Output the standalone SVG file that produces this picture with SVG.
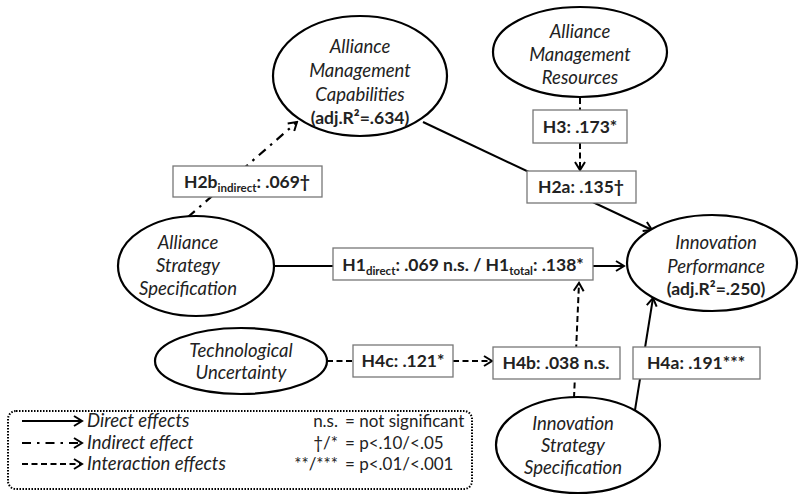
<svg xmlns="http://www.w3.org/2000/svg" width="799" height="495" viewBox="0 0 799 495">
<style>
.el{fill:#fff;stroke:#000;stroke-width:2.2}
.bx{fill:#fff;stroke:#777;stroke-width:1.3}
.it{font-family:Lato,"Open Sans",sans-serif;font-style:italic;font-size:18.5px;fill:#222;text-anchor:middle}
.bd{font-family:Lato,"Open Sans",sans-serif;font-weight:bold;font-size:17.5px;fill:#222;text-anchor:middle}
.lg{font-family:Lato,"Open Sans",sans-serif;font-size:17px;fill:#222}
.li{font-family:Lato,"Open Sans",sans-serif;font-size:18.5px;font-style:italic;fill:#222}
.ln{stroke:#000;stroke-width:2;fill:none}
.dd{stroke:#000;stroke-width:2.2;fill:none;stroke-dasharray:9 6 2.5 6}
.ds{stroke:#000;stroke-width:2;fill:none;stroke-dasharray:6 3.5}
.sub{font-size:11.5px}
</style>
<defs>
<marker id="ah" viewBox="0 0 12 12" refX="10" refY="6" markerWidth="12" markerHeight="12" markerUnits="userSpaceOnUse" orient="auto">
<path d="M2,1 L10,6 L2,11" fill="none" stroke="#000" stroke-width="2"/>
</marker>
</defs>
<g id="connectors">
<line class="ln" x1="423" y1="122" x2="652" y2="230" marker-end="url(#ah)"/>
<line class="dd" x1="188" y1="217" x2="297" y2="122" marker-end="url(#ah)"/>
<line class="ds" x1="580" y1="98" x2="580" y2="110"/>
<line class="ds" x1="580" y1="143" x2="580" y2="170" marker-end="url(#ah)"/>
<line class="ln" x1="274" y1="266" x2="333" y2="266"/>
<line class="ln" x1="593" y1="266" x2="624" y2="266" marker-end="url(#ah)"/>
<line class="ds" x1="574" y1="398" x2="579" y2="283" marker-end="url(#ah)"/>
<line class="ds" x1="327" y1="361" x2="353" y2="361"/>
<line class="ds" x1="453" y1="361" x2="492" y2="361" marker-end="url(#ah)"/>
<line class="ln" x1="635" y1="410" x2="653" y2="298" marker-end="url(#ah)"/>
</g>
<g id="amc">
<ellipse class="el" cx="360" cy="76" rx="87" ry="60"/>
<text class="it" x="360" y="53">Alliance</text>
<text class="it" x="360" y="77">Management</text>
<text class="it" x="360" y="101">Capabilities</text>
<text class="bd" x="360" y="124">(adj.R²=.634)</text>
</g>
<g id="amr">
<ellipse class="el" cx="580" cy="52" rx="87" ry="45"/>
<text class="it" x="580" y="38">Alliance</text>
<text class="it" x="580" y="61">Management</text>
<text class="it" x="580" y="84">Resources</text>
</g>
<g id="h3">
<rect class="bx" x="533" y="110" width="94" height="33"/>
<text class="bd" x="580" y="133">H3: .173*</text>
</g>
<g id="h2a">
<rect class="bx" x="527" y="171" width="109" height="32"/>
<text class="bd" x="581" y="193">H2a: .135†</text>
</g>
<g id="h2b">
<rect class="bx" x="173" y="166" width="149" height="31"/>
<text class="bd" x="247" y="188">H2b<tspan class="sub" dy="4">indirect</tspan><tspan dy="-4">: .069†</tspan></text>
</g>
<g id="ass">
<ellipse class="el" cx="196" cy="266" rx="78" ry="50"/>
<text class="it" x="188" y="249">Alliance</text>
<text class="it" x="188" y="272">Strategy</text>
<text class="it" x="188" y="295">Specification</text>
</g>
<g id="h1">
<rect class="bx" x="333" y="248" width="260" height="32"/>
<text class="bd" x="463" y="271">H1<tspan class="sub" dy="4">direct</tspan><tspan dy="-4">: .069 n.s. / H1</tspan><tspan class="sub" dy="4">total</tspan><tspan dy="-4">: .138*</tspan></text>
</g>
<g id="ip">
<ellipse class="el" cx="712" cy="263" rx="85" ry="48"/>
<text class="it" x="716" y="249">Innovation</text>
<text class="it" x="716" y="273">Performance</text>
<text class="bd" x="716" y="295">(adj.R²=.250)</text>
</g>
<g id="tu">
<ellipse class="el" cx="241" cy="361" rx="86" ry="33"/>
<text class="it" x="241" y="357">Technological</text>
<text class="it" x="241" y="379">Uncertainty</text>
</g>
<g id="h4c">
<rect class="bx" x="353" y="345" width="100" height="32"/>
<text class="bd" x="403" y="367">H4c: .121*</text>
</g>
<g id="h4b">
<rect class="bx" x="493" y="347" width="127" height="32"/>
<text class="bd" x="556" y="369">H4b: .038 n.s.</text>
</g>
<g id="h4a">
<rect class="bx" x="633" y="347" width="127" height="32"/>
<text class="bd" x="696" y="369">H4a: .191***</text>
</g>
<g id="iss">
<ellipse class="el" cx="578" cy="445" rx="82" ry="48"/>
<text class="it" x="573" y="430">Innovation</text>
<text class="it" x="573" y="452">Strategy</text>
<text class="it" x="573" y="474">Specification</text>
</g>
<g id="legend">
<rect x="8" y="411" width="464" height="78" rx="8" fill="none" stroke="#000" stroke-width="2" stroke-dasharray="1.5 1.5"/>
<line class="ln" x1="22" y1="421" x2="82" y2="421" stroke-width="2.4" marker-end="url(#ah)"/>
<line class="dd" x1="22" y1="443" x2="82" y2="443" marker-end="url(#ah)"/>
<line class="ds" x1="22" y1="464" x2="82" y2="464" stroke-width="1.4" stroke-dasharray="4 2" marker-end="url(#ah)"/>
<text class="li" x="87" y="427">Direct effects</text>
<text class="li" x="87" y="449">Indirect effect</text>
<text class="li" x="87" y="470">Interaction effects</text>
<text class="lg" x="338" y="427" text-anchor="end">n.s.</text>
<text class="lg" x="338" y="449" text-anchor="end">†/*</text>
<text class="lg" x="338" y="470" text-anchor="end">**/***</text>
<text class="lg" x="345" y="427">= not significant</text>
<text class="lg" x="345" y="449">= p&lt;.10/&lt;.05</text>
<text class="lg" x="345" y="470">= p&lt;.01/&lt;.001</text>
</g>
</svg>
